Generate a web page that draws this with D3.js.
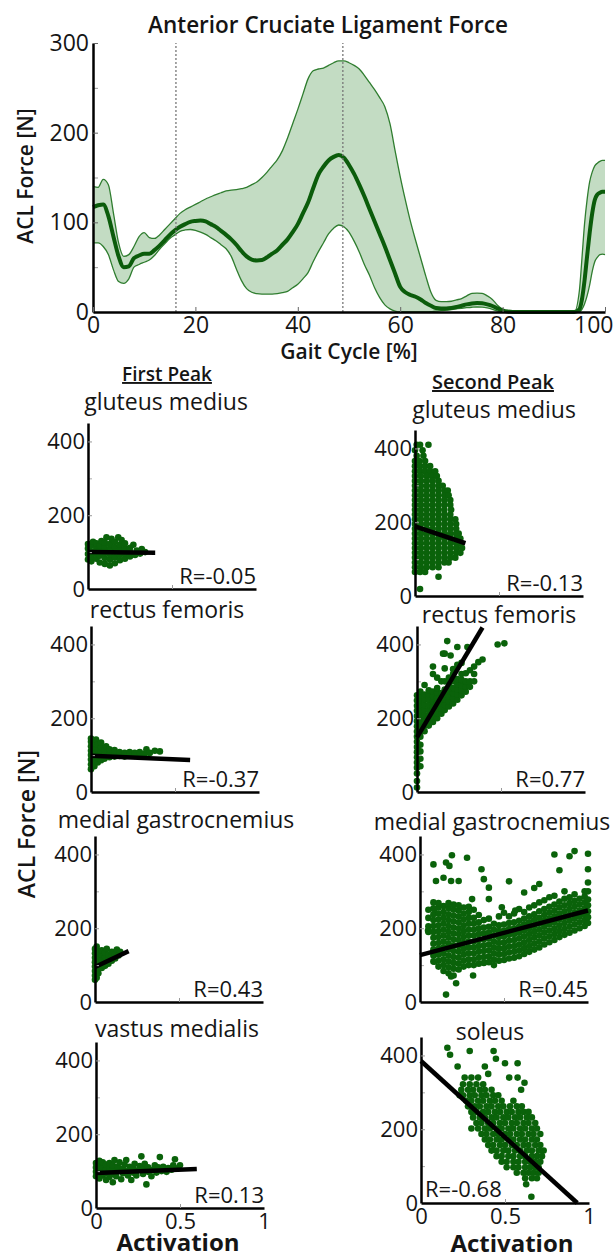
<!DOCTYPE html>
<html><head><meta charset="utf-8">
<script src="https://cdn.jsdelivr.net/npm/d3@7"></script>
<style>
body{margin:0;background:#fff}
svg{display:block}
text{font-family:"Open Sans",sans-serif;fill:#151515}
</style>
</head><body>
<svg id="c" width="614" height="1259"></svg>
<script>
// ---------------- DATA ----------------
const gait = [0,1,2,3,4,5,6,7,8,9,10,11,12,13,14,15,16,17,18,19,20,21,22,23,24,25,26,27,28,29,30,31,32,33,34,35,36,37,38,39,40,41,42,43,44,45,46,47,48,49,50,51,52,53,54,55,56,57,58,59,60,61,62,63,64,65,66,67,68,69,70,71,72,73,74,75,76,77,78,79,80,81,82,84,86,88,90,92,94,95,95.5,96,96.5,97,97.5,98,98.5,99,99.5,100];
const aclMean = [117,119,120,107,84,62,50,51,60,63,65,65,69,74,80,86,91,95,98,100.5,101.5,102,101,98,95,90.5,86,81,75,68,62,58.5,57.5,58,61,65,69,75,81,89,98,110,122,138,153,162,169,173,175,172,164,154,142,129,115,101,87,73,58,43,28,22,19,17,14,10,7,4.5,4,4,4.5,5.5,7,8.5,9.5,10,9.7,8.5,6.7,4,1.8,0.5,0,0,0,0,0,0,0,3,14,35,62,88,110,125,131,133,134,134];
const aclUpper = [140,139,148,142,110,77,62,64,73,84,88.5,83,82,86,92,98,104,110,114,117,120,123,126,128.5,131,133,135,136,136.5,137.5,139,142,145,150,156,163,170,180,194,210,226,243,260,269,271,272,275,278,280,280,278,275,271,264,256,248,239,229,210,180,151,125,101,80,60,40,22,13,11.5,11.5,12,13.5,15,18,20.8,21,20.8,18,14,7.5,3,0,0,0,0,0,0,0,0,24,60,98,125,145,156,163,166,168,169,169];
const aclLower = [77,77,73,64,47,34,32,37,50,53,55.5,58,63,70,76,82,86,90,91.5,92,91,89,86.5,83,79.5,75,70.5,62,48,35,26,22,20.5,20,20,20,20.5,21.5,23,27,31,37,44,56,67,77,87,93.5,97,95,89,79,67,53,41,27,16,8,3.5,1,0,0,0,0,0,0,0.3,1,1.5,2,2.8,3.5,4.2,4.8,5.3,5.6,5.4,4.5,3,1,0,0,0,0,0,0,0,0,0,0,3,9,18,30,45,56,61,64,64.5,64];
const peakLines = [16.2, 48.8];
const topYTicks = [0,100,200,300];
const topYMinor = [50,150,250];
const topXTicks = [0,20,40,60,80,100];

const scatYTicks = [0,200,400];
const scatYMinor = [100,300];
const scatXTicks = [0,0.5,1];

const firstMuscles = ["gluteus medius","rectus femoris","medial gastrocnemius","vastus medialis"];
const secondMuscles = ["gluteus medius","rectus femoris","medial gastrocnemius","soleus"];
const firstR = ["R=-0.05","R=-0.37","R=0.43","R=0.13"];
const secondR = ["R=-0.13","R=0.77","R=0.45","R=-0.68"];
// regression lines: [x0, y0, x1, y1] in data units
const firstFit = [[0,100,0.4,98],[0,98,0.59,87],[0,95,0.2,138],[0,95,0.6,106]];
const secondFit = [[0,189,0.3,143],[0,148,0.39,446],[0,127,1,248],[0,385,0.93,0]];

// First peak scatter points [activation, force]
const fp1 = [[0,80],[0,95],[0,110],[0,122],[0.02,75],[0.02,88],[0.02,102],[0.02,118],[0.03,128],[0.05,82],[0.05,96],[0.05,110],[0.05,124],[0.07,72],[0.07,90],[0.07,104],[0.07,118],[0.08,130],[0.1,68],[0.1,84],[0.1,98],[0.1,112],[0.1,126],[0.11,140],[0.13,64],[0.13,80],[0.13,94],[0.13,108],[0.13,122],[0.14,136],[0.16,70],[0.16,86],[0.16,100],[0.16,114],[0.16,128],[0.18,140],[0.19,78],[0.19,92],[0.19,106],[0.19,120],[0.2,133],[0.22,82],[0.22,96],[0.22,110],[0.22,124],[0.25,88],[0.25,100],[0.25,112],[0.27,120],[0.28,92],[0.29,104],[0.31,96],[0.32,108],[0.34,100]];
const fp2 = [[0,62],[0,75],[0,88],[0,100],[0,112],[0,124],[0,136],[0,145],[0.02,70],[0.02,84],[0.02,96],[0.02,108],[0.02,120],[0.02,132],[0.03,142],[0.04,80],[0.04,92],[0.04,104],[0.04,116],[0.04,128],[0.06,86],[0.06,98],[0.06,110],[0.06,122],[0.06,134],[0.08,90],[0.08,102],[0.08,114],[0.09,124],[0.11,94],[0.11,104],[0.11,116],[0.14,96],[0.14,106],[0.14,114],[0.17,98],[0.17,108],[0.2,96],[0.2,106],[0.23,100],[0.23,108],[0.26,98],[0.26,106],[0.29,100],[0.29,108],[0.32,104],[0.33,116],[0.35,106],[0.38,112],[0.41,110]];
const fp3 = [[0,60],[0,72],[0,84],[0,96],[0,108],[0,120],[0,132],[0,144],[0.01,66],[0.01,150],[0.02,78],[0.02,90],[0.02,102],[0.02,114],[0.02,126],[0.02,138],[0.04,92],[0.04,104],[0.04,116],[0.04,128],[0.04,140],[0.06,98],[0.06,110],[0.06,122],[0.06,134],[0.07,144],[0.08,104],[0.08,116],[0.08,128],[0.1,112],[0.1,124],[0.1,136],[0.12,118],[0.12,130],[0.13,142],[0.14,126],[0.15,136]];
const fp4 = [[0,86],[0,98],[0,110],[0,122],[0.02,80],[0.02,92],[0.02,104],[0.02,116],[0.02,128],[0.04,88],[0.04,100],[0.04,112],[0.04,124],[0.06,76],[0.06,94],[0.06,106],[0.06,118],[0.08,84],[0.08,98],[0.08,110],[0.08,122],[0.1,70],[0.1,92],[0.1,104],[0.1,116],[0.11,130],[0.12,86],[0.13,100],[0.13,112],[0.14,124],[0.15,78],[0.16,94],[0.16,106],[0.17,118],[0.18,130],[0.19,88],[0.19,100],[0.2,112],[0.21,76],[0.22,96],[0.22,108],[0.23,120],[0.24,88],[0.25,102],[0.26,114],[0.27,140],[0.28,92],[0.28,106],[0.29,120],[0.3,64],[0.31,98],[0.31,110],[0.33,86],[0.34,104],[0.35,116],[0.36,96],[0.37,110],[0.38,138],[0.39,100],[0.4,112],[0.42,98],[0.43,108],[0.45,104],[0.46,116],[0.47,132],[0.49,108],[0.5,116]];

// Second peak: dense clouds written as rows [force, [activations]] or columns [activation, [forces]]
const sp1Rows = [[410,[0.01,0.03,0.08]],[395,[0,0.045]],[380,[0.01,0.05]],[366,[0,0.025,0.06]],[352,[0,0.03,0.06,0.09]],[338,[0,0.03,0.06,0.09,0.12]],[325,[0,0.035,0.07,0.1,0.13]],[312,[0,0.035,0.07,0.105,0.14]],[299,[0,0.035,0.07,0.105,0.14,0.165]],[286,[0,0.035,0.07,0.105,0.14,0.175,0.195]],[273,[0,0.035,0.07,0.105,0.14,0.175,0.2]],[260,[0,0.035,0.07,0.105,0.14,0.175,0.21]],[247,[0,0.035,0.07,0.105,0.14,0.175,0.21]],[234,[0,0.035,0.07,0.105,0.14,0.175,0.215]],[221,[0,0.035,0.07,0.105,0.14,0.175,0.21]],[208,[0,0.035,0.07,0.105,0.14,0.175,0.21,0.24]],[195,[0,0.035,0.07,0.105,0.14,0.175,0.21,0.245]],[182,[0,0.035,0.07,0.105,0.14,0.175,0.21,0.245]],[169,[0,0.035,0.07,0.105,0.14,0.175,0.21,0.245,0.26]],[156,[0,0.035,0.07,0.105,0.14,0.175,0.21,0.245,0.27]],[143,[0,0.035,0.07,0.105,0.14,0.175,0.21,0.245,0.27]],[130,[0,0.035,0.07,0.105,0.14,0.175,0.21,0.245,0.28]],[117,[0,0.035,0.07,0.105,0.14,0.175,0.21,0.245,0.27]],[104,[0,0.035,0.07,0.105,0.14,0.175,0.21,0.24]],[91,[0,0.035,0.07,0.105,0.14,0.175,0.2]],[78,[0,0.035,0.07,0.105,0.14]],[65,[0,0.03,0.06]],[52,[0.14]],[19,[0.03]]];
const sp2Cols = [[0,[12,30,50,66,80,94,108,122,136,150,164,178,192,206,220,234,248,262]],[0.02,[70,90,110,128,150,164,178,192,206,220,234,248,262,272]],[0.045,[165,180,194,208,222,236,250,264,290]],[0.07,[180,194,208,222,236,250,264,276]],[0.095,[190,204,218,232,246,260,272,320,340]],[0.12,[200,214,228,242,256,270,282,310]],[0.145,[212,226,240,254,268,300]],[0.165,[222,236,250,264,278,300,335,375]],[0.19,[232,246,260,274,290,310]],[0.215,[240,254,268,282,300,320,333]],[0.24,[250,264,278,292,306,345]],[0.265,[262,276,290,304,320,350]],[0.29,[272,286,300,322]],[0.315,[285,300,330]],[0.34,[300,320,340]],[0.365,[352]],[0.39,[359]],[0.18,[409]],[0.24,[393]],[0.3,[393]],[0.155,[375]],[0.2,[370]],[0.48,[400]],[0.52,[403]]];
const sp3Cols = [[0.05,[190,205,228,250]],[0.08,[110,126,142,158,174,190,206,222,238,254,270,373]],[0.11,[96,112,128,144,160,176,192,208,224,240,256,268]],[0.14,[84,100,116,132,148,164,180,196,212,228,244,260,337]],[0.17,[78,94,110,126,142,158,174,190,206,222,238,254,268]],[0.2,[72,90,106,122,138,154,170,186,202,218,234,250,264]],[0.23,[88,104,120,136,152,168,184,200,216,232,248,262,328]],[0.26,[96,112,128,144,160,176,192,208,224,240,256]],[0.29,[100,116,132,148,164,180,196,212,228,244,258]],[0.32,[100,116,132,148,164,180,196,212,228,250]],[0.35,[104,120,136,152,168,184,200,216,236]],[0.38,[106,122,138,154,170,186,202,222,333]],[0.41,[108,124,140,156,172,188,204,226,279,310]],[0.44,[100,116,132,148,164,180,196,212]],[0.47,[112,128,144,160,176,192,208,232]],[0.5,[114,130,146,162,178,194,210,242]],[0.53,[118,134,150,166,182,198,214,232,327]],[0.56,[120,136,152,168,184,200,216,240]],[0.59,[124,140,156,172,188,204,220,252]],[0.62,[130,146,162,178,194,210,226,244,297]],[0.65,[136,152,168,184,200,216,232,256]],[0.68,[142,158,174,190,206,222,238,262,309]],[0.71,[148,164,180,196,212,228,246,270,320]],[0.74,[156,172,188,204,220,236,252,276]],[0.77,[162,178,194,210,226,242,258,284]],[0.8,[168,184,200,216,232,248,264,288,400]],[0.83,[176,192,208,224,240,256,272,357]],[0.86,[182,198,214,230,246,262,280,300]],[0.89,[188,204,220,236,252,268,284,395]],[0.92,[194,210,226,242,258,274,292,409]],[0.95,[200,216,232,248,264,280]],[0.98,[206,222,238,254,270,286,300]],[1.0,[214,230,246,262,278,300,324,360,402]],[0.19,[398]],[0.28,[391]],[0.155,[378,20]],[0.175,[369]],[0.095,[328]],[0.185,[328,69]],[0.366,[360]],[0.048,[194]],[0.085,[252,109]],[0.31,[279]],[0.487,[257]],[0.567,[248]],[0.215,[51]],[0.316,[72]]];
const sp4Rows = [[421,[0.157]],[412,[0.29,0.432]],[402,[0.173]],[391,[0.446]],[379,[0.5,0.575]],[370,[0.218,0.38]],[350,[0.4]],[340,[0.26,0.3,0.34,0.525,0.575]],[326,[0.616]],[322,[0.25,0.29,0.33,0.37]],[307,[0.24,0.28,0.31,0.35,0.38,0.42,0.596]],[292,[0.23,0.25,0.29,0.32,0.36,0.39,0.43,0.46]],[277,[0.27,0.3,0.34,0.37,0.41,0.44,0.48,0.55]],[262,[0.28,0.32,0.35,0.39,0.42,0.46,0.49,0.53,0.57,0.6]],[247,[0.3,0.33,0.37,0.4,0.44,0.47,0.51,0.54,0.58,0.61,0.64]],[232,[0.31,0.35,0.38,0.42,0.45,0.49,0.52,0.56,0.59,0.63,0.66]],[217,[0.33,0.36,0.4,0.43,0.47,0.5,0.54,0.57,0.61,0.64,0.68]],[202,[0.3,0.34,0.38,0.41,0.45,0.48,0.52,0.55,0.59,0.62,0.66,0.69]],[187,[0.36,0.39,0.43,0.46,0.5,0.53,0.57,0.6,0.64,0.67,0.71]],[172,[0.38,0.41,0.45,0.48,0.52,0.55,0.59,0.62,0.66,0.69]],[157,[0.4,0.43,0.47,0.5,0.54,0.57,0.61,0.64,0.68,0.71]],[142,[0.42,0.45,0.49,0.52,0.56,0.59,0.63,0.66,0.7,0.73]],[127,[0.45,0.48,0.52,0.55,0.59,0.62,0.66,0.69,0.72]],[112,[0.48,0.51,0.55,0.58,0.62,0.65,0.68,0.71]],[97,[0.51,0.55,0.58,0.62,0.65,0.68,0.7]],[82,[0.57,0.61,0.64,0.67,0.7]],[67,[0.62,0.66,0.69]],[51,[0.626]],[17,[0.657]]];

// ---------------- HELPERS (unpack only) ----------------
const fromRows = rows => rows.flatMap(([y, xs]) => xs.map(x => [x, y]));
const fromCols = cols => cols.flatMap(([x, ys]) => ys.map(y => [x, y]));
const firstPts = [fp1, fp2, fp3, fp4];
const secondPts = [fromRows(sp1Rows), fromCols(sp2Cols), fromCols(sp3Cols), fromRows(sp4Rows)];

const svg = d3.select("#c");
const GREEN_DOT = "#0a620a";

// ---------------- TOP CHART ----------------
const xT = d3.scaleLinear().domain([0,100]).range([93,605]);
const yT = d3.scaleLinear().domain([0,300]).range([312,43]);
const band = gait.map((g,i)=>({g, lo:aclLower[i], hi:aclUpper[i], m:aclMean[i]}));
const cv = d3.curveMonotoneX;
svg.append("path").datum(band)
  .attr("d", d3.area().x(d=>xT(d.g)).y0(d=>yT(d.lo)).y1(d=>yT(d.hi)).curve(cv))
  .attr("fill","#c3dcc3");
["hi","lo"].forEach(k=>{
  svg.append("path").datum(band)
    .attr("d", d3.line().x(d=>xT(d.g)).y(d=>yT(d[k])).curve(cv))
    .attr("fill","none").attr("stroke","#2f7d2f").attr("stroke-width",1.3);
});
svg.append("path").datum(band)
  .attr("d", d3.line().x(d=>xT(d.g)).y(d=>yT(d.m)).curve(cv))
  .attr("fill","none").attr("stroke","#0b5c0b").attr("stroke-width",4).attr("stroke-linejoin","round");
peakLines.forEach(p=>{
  svg.append("line").attr("x1",xT(p)).attr("x2",xT(p)).attr("y1",yT(0)).attr("y2",yT(300))
    .attr("stroke","#777").attr("stroke-width",1.3).attr("stroke-dasharray","2,2");
});
// minor ticks
svg.append("g").attr("transform","translate(93,0)")
  .call(d3.axisLeft(yT).tickValues(topYMinor).tickSize(-5).tickFormat(""))
  .call(g=>{g.select(".domain").remove(); g.selectAll("line").attr("stroke","#999");});
const gyT = svg.append("g").attr("transform","translate(93,0)")
  .call(d3.axisLeft(yT).tickValues(topYTicks).tickSize(-5).tickSizeOuter(0).tickPadding(4));
const gxT = svg.append("g").attr("transform","translate(0,312)")
  .call(d3.axisBottom(xT).tickValues(topXTicks).tickSize(-5).tickSizeOuter(0).tickPadding(5));
[gyT,gxT].forEach(g=>{
  g.select(".domain").attr("stroke","#000").attr("stroke-width",2.5);
  g.selectAll(".tick line").attr("stroke","#666");
  g.selectAll("text").attr("font-family","Open Sans").attr("font-size",23).attr("fill","#151515");
});
// last x label kept inside the picture (right-aligned at the edge)
gxT.selectAll(".tick").filter(d=>d===100).select("text").attr("text-anchor","end").attr("x",8);
svg.append("text").attr("x",328).attr("y",33).attr("text-anchor","middle")
  .attr("font-size",22.5).attr("font-weight",600).text("Anterior Cruciate Ligament Force");
svg.append("text").attr("x",349).attr("y",359).attr("text-anchor","middle")
  .attr("font-size",21).attr("font-weight",600).text("Gait Cycle [%]");
svg.append("text").attr("transform","translate(33,176) rotate(-90)").attr("text-anchor","middle")
  .attr("font-size",21).attr("font-weight",600).text("ACL Force [N]");

// ---------------- SCATTER PANELS ----------------
const PW = 168, PH = 166;
const leftGeo = [[88,589],[91,792],[95,1002],[96,1208]];
const rightGeo = [[415,596],[417,792],[420,1002],[421,1203]];
const leftTitles = [[166,410],[167,618],[176,828],[177,1037]];
const rightTitles = [[494,418],[499,623],[492,830],[490,1040]];

function panel(geo, title, titlePos, pts, fit, rText, bottomRow, rLeft){
  const [x0,y0] = geo;
  const xs = d3.scaleLinear().domain([0,1]).range([x0, x0+PW]);
  const ys = d3.scaleLinear().domain([0,450]).range([y0, y0-PH]);
  const g = svg.append("g");
  g.append("g").selectAll("circle").data(pts).join("circle")
    .attr("cx",d=>xs(d[0])).attr("cy",d=>ys(d[1])).attr("r",3.3).attr("fill",GREEN_DOT);
  g.append("line").attr("x1",xs(fit[0])).attr("y1",ys(fit[1])).attr("x2",xs(fit[2])).attr("y2",ys(fit[3]))
    .attr("stroke","#000").attr("stroke-width",4.5).attr("stroke-linecap","butt");
  g.append("g").attr("transform",`translate(${x0},0)`)
    .call(d3.axisLeft(ys).tickValues(scatYMinor).tickSize(-4).tickFormat(""))
    .call(a=>{a.select(".domain").remove(); a.selectAll("line").attr("stroke","#aaa");});
  const ay = g.append("g").attr("transform",`translate(${x0},0)`)
    .call(d3.axisLeft(ys).tickValues(scatYTicks).tickSize(-4).tickSizeOuter(0).tickPadding(3));
  const ax = g.append("g").attr("transform",`translate(0,${y0})`)
    .call(d3.axisBottom(xs).tickValues(scatXTicks).tickSize(-4).tickSizeOuter(0).tickPadding(5)
      .tickFormat(bottomRow ? d3.format("") : ""));
  [ay,ax].forEach(a=>{
    a.select(".domain").attr("stroke","#000").attr("stroke-width",2.5);
    a.selectAll(".tick line").attr("stroke","#999");
    a.selectAll("text").attr("font-family","Open Sans").attr("font-size",22).attr("fill","#151515");
  });
  ax.selectAll(".tick").filter(d=>d===0||d===1).select("line").remove();
  svg.append("text").attr("x",titlePos[0]).attr("y",titlePos[1]).attr("text-anchor","middle")
    .attr("font-size",23).text(title);
  if(rLeft){
    svg.append("text").attr("x",x0+4).attr("y",y0-6).attr("font-size",22).text(rText);
  } else {
    svg.append("text").attr("x",x0+PW).attr("y",y0-5).attr("text-anchor","end").attr("font-size",22).text(rText);
  }
}
for(let i=0;i<4;i++){
  panel(leftGeo[i], firstMuscles[i], leftTitles[i], firstPts[i], firstFit[i], firstR[i], i===3, false);
  panel(rightGeo[i], secondMuscles[i], rightTitles[i], secondPts[i], secondFit[i], secondR[i], i===3, i===3);
}
svg.append("text").attr("x",167).attr("y",381).attr("text-anchor","middle").attr("font-size",19)
  .attr("font-weight",600).attr("text-decoration","underline").text("First Peak");
svg.append("text").attr("x",493).attr("y",389).attr("text-anchor","middle").attr("font-size",20)
  .attr("font-weight",600).attr("text-decoration","underline").text("Second Peak");
svg.append("text").attr("transform","translate(35,824) rotate(-90)").attr("text-anchor","middle")
  .attr("font-size",23).attr("font-weight",600).text("ACL Force [N]");
svg.append("text").attr("x",178).attr("y",1251).attr("text-anchor","middle").attr("font-size",24)
  .attr("font-weight",700).text("Activation");
svg.append("text").attr("x",512).attr("y",1252).attr("text-anchor","middle").attr("font-size",24)
  .attr("font-weight",700).text("Activation");
</script>
</body></html>
